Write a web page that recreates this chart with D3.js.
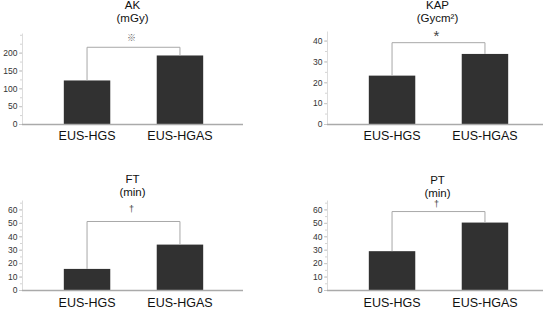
<!DOCTYPE html>
<html>
<head>
<meta charset="utf-8">
<script src="https://cdn.jsdelivr.net/npm/d3@7"></script>
<style>
  body { margin: 0; background: #fff; }
  svg { display: block; font-family: "Liberation Sans", Arial, sans-serif; }
</style>
</head>
<body>
<div id="chart"></div>
<script>
// data
var categories = ["EUS-HGS", "EUS-HGAS"];
var titleLines = [["AK", "(mGy)"], ["KAP", "(Gycm\u00b2)"], ["FT", "(min)"], ["PT", "(min)"]];
var akValues = [122, 192];
var kapValues = [23.2, 33.6];
var ftValues = [15.7, 33.8];
var ptValues = [28.9, 50.2];
var akTicks = [0, 50, 100, 150, 200];
var kapTicks = [0, 10, 20, 30, 40];
var ftTicks = [0, 10, 20, 30, 40, 50, 60];
var ptTicks = [0, 10, 20, 30, 40, 50, 60];
var yMaxes = [255, 44.6, 67, 67];
var minorSteps = [25, 5, 5, 5];
var bracketLevels = [215, 39, 51, 58.4];
var marks = ["\u203b", "*", "\u2020", "\u2020"];

var w = 550, h = 309;

// panel layout (pixels)
var panels = [
  {vals: akValues,  ticks: akTicks,  left: 22,  right: 243, base: 124, top: 33,  t1: 9,     t2: 22,    lab: 139.5, markY: 40.5, markSize: 9,  markFont: "'Noto Sans CJK JP', sans-serif", markColor: "#666"},
  {vals: kapValues, ticks: kapTicks, left: 327, right: 543, base: 124, top: 31,  t1: 9,     t2: 22,    lab: 139.5, markY: 41,   markSize: 15, markFont: "'Liberation Sans', Arial", markColor: "#444"},
  {vals: ftValues,  ticks: ftTicks,  left: 22,  right: 243, base: 290, top: 200, t1: 182.5, t2: 195.5, lab: 307,   markY: 212,  markSize: 9,  markFont: "'Liberation Sans', Arial", markColor: "#444"},
  {vals: ptValues,  ticks: ptTicks,  left: 327, right: 543, base: 290, top: 200, t1: 183.5, t2: 196.5, lab: 307,   markY: 207,  markSize: 9,  markFont: "'Liberation Sans', Arial", markColor: "#444"}
];

var svg = d3.select("#chart")
  .append("svg")
  .attr("width", w)
  .attr("height", h);

panels.forEach(function(p, i) {
  var g = svg.append("g");

  var xScale = d3.scaleBand()
    .domain(categories)
    .range([p.left, p.left + 223])
    .paddingInner(0.5)
    .paddingOuter(0.45);

  var yScale = d3.scaleLinear()
    .domain([0, yMaxes[i]])
    .range([p.base, p.top]);

  // minor ticks
  var minor = d3.range(0, yMaxes[i], minorSteps[i]);
  g.append("g")
    .attr("transform", "translate(" + p.left + ",0)")
    .call(d3.axisLeft(yScale).tickValues(minor).tickSize(2).tickFormat(""))
    .call(function(a) {
      a.select(".domain").remove();
      a.selectAll("line").attr("stroke", "#d4d4d4");
    });

  // y axis
  g.append("g")
    .attr("transform", "translate(" + p.left + ",0)")
    .call(d3.axisLeft(yScale).tickValues(p.ticks).tickSize(3).tickPadding(1.5).tickSizeOuter(0))
    .call(function(a) {
      a.select(".domain").attr("stroke", "#dcdcdc");
      a.selectAll("line").attr("stroke", "#c8c8c8");
      a.selectAll("text").attr("font-size", "8.5px").attr("fill", "#333");
    });

  // bars
  g.selectAll(".bar")
    .data(p.vals)
    .enter()
    .append("rect")
    .attr("class", "bar")
    .attr("x", function(d, j) { return xScale(categories[j]); })
    .attr("y", function(d) { return yScale(d); })
    .attr("width", xScale.bandwidth())
    .attr("height", function(d) { return p.base - yScale(d); })
    .attr("fill", "#313131");

  // x axis line
  g.append("line")
    .attr("x1", p.left)
    .attr("x2", p.right)
    .attr("y1", p.base + 0.5)
    .attr("y2", p.base + 0.5)
    .attr("stroke", "#aaa")
    .attr("stroke-width", 1.5);

  // x labels
  g.selectAll(".xlab")
    .data(categories)
    .enter()
    .append("text")
    .attr("x", function(d) { return xScale(d) + xScale.bandwidth() / 2; })
    .attr("y", p.lab)
    .attr("text-anchor", "middle")
    .attr("font-size", "12.5px")
    .attr("fill", "#111")
    .text(function(d) { return d; });

  // significance bracket
  var cx = categories.map(function(c) { return xScale(c) + xScale.bandwidth() / 2; });
  var by = yScale(bracketLevels[i]);
  g.append("path")
    .attr("d", "M" + cx[0] + "," + yScale(p.vals[0]) + " V" + by + " H" + cx[1] + " V" + yScale(p.vals[1]))
    .attr("fill", "none")
    .attr("stroke", "#a8a8a8")
    .attr("stroke-width", 1);

  var mid = (cx[0] + cx[1]) / 2;
  g.append("text")
    .attr("x", mid - 2)
    .attr("y", p.markY)
    .attr("text-anchor", "middle")
    .attr("font-size", p.markSize + "px")
    .attr("font-family", p.markFont)
    .attr("fill", p.markColor)
    .text(marks[i]);

  // title
  g.append("text")
    .attr("x", mid - 1)
    .attr("y", p.t1)
    .attr("text-anchor", "middle")
    .attr("font-size", "11.5px")
    .attr("fill", "#111")
    .text(titleLines[i][0]);
  g.append("text")
    .attr("x", mid - 1)
    .attr("y", p.t2)
    .attr("text-anchor", "middle")
    .attr("font-size", "11.5px")
    .attr("fill", "#111")
    .text(titleLines[i][1]);
});
</script>
</body>
</html>
